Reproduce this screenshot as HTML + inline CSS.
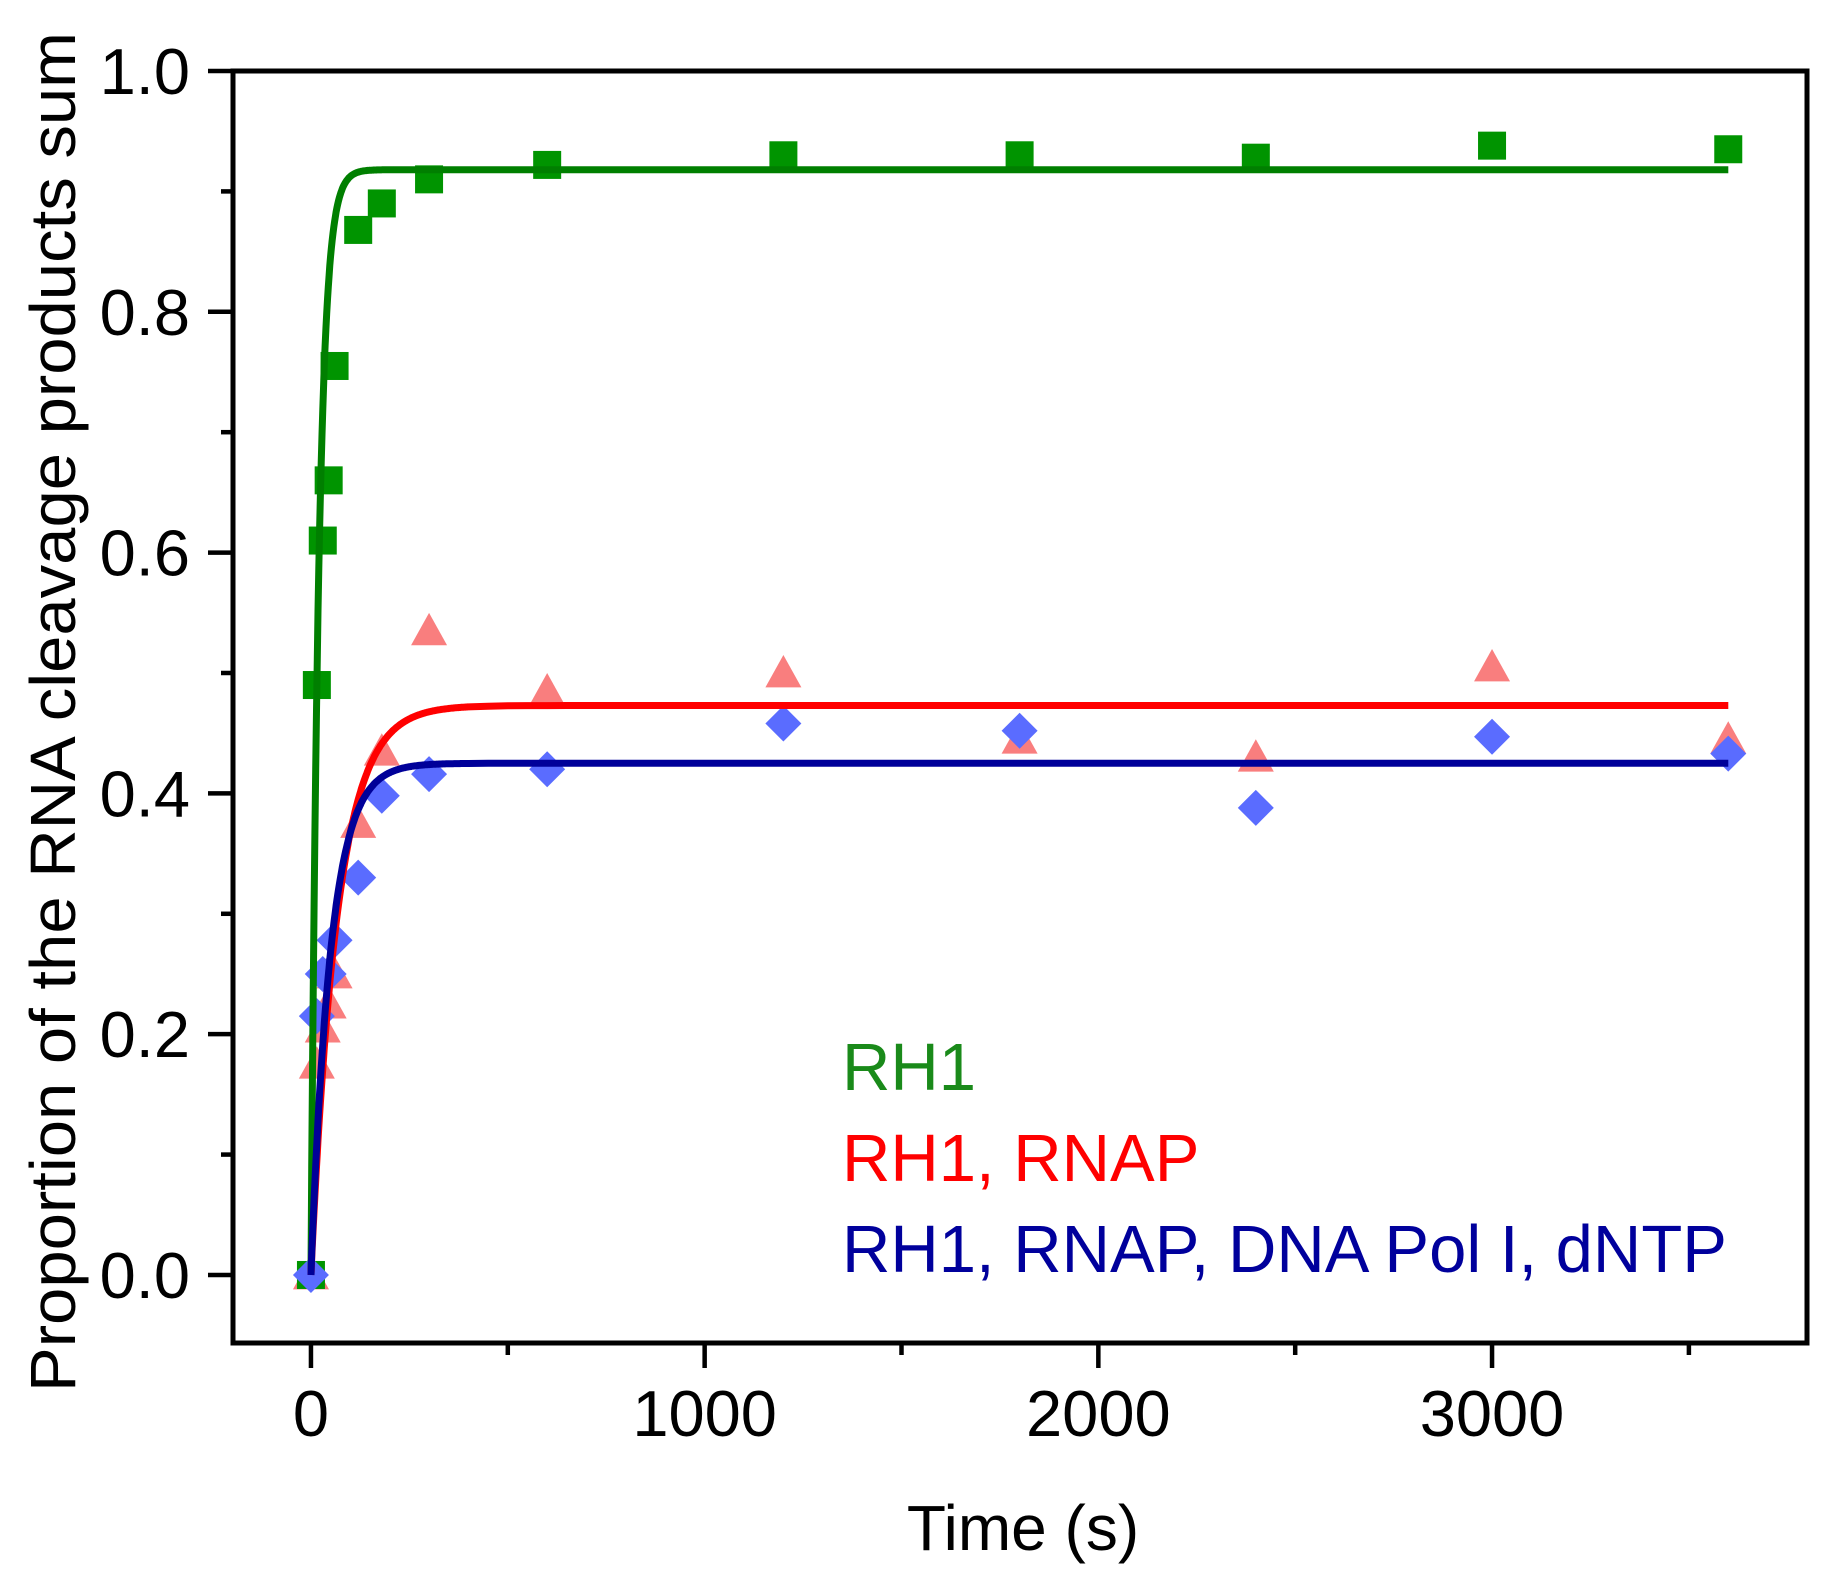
<!DOCTYPE html>
<html><head><meta charset="utf-8"><style>
html,body{margin:0;padding:0;background:#fff}
svg{display:block;font-family:"Liberation Sans",Arial,sans-serif}
</style></head><body>
<svg id="chart" width="1839" height="1587" viewBox="0 0 1839 1587" xmlns="http://www.w3.org/2000/svg">
<g id="plot"></g>
<text transform="translate(75,712) rotate(-90)" text-anchor="middle" font-size="64" textLength="1360" lengthAdjust="spacingAndGlyphs">Proportion of the  RNA cleavage products sum</text>
<text x="1023" y="1550" text-anchor="middle" font-size="64">Time (s)</text>
<text x="842" y="1090" font-size="67" fill="#1a8a1a">RH1</text>
<text x="842" y="1181" font-size="67" fill="#ff0000">RH1, RNAP</text>
<text x="842" y="1272" font-size="67" fill="#00009c">RH1, RNAP, DNA Pol I, dNTP</text>
</svg>
<script>
const xTicks = [0, 1000, 2000, 3000];
const yTicks = [0.0, 0.2, 0.4, 0.6, 0.8, 1.0];
const yTickLabels = ["0.0", "0.2", "0.4", "0.6", "0.8", "1.0"];
const timesGreen = [0, 15, 30, 45, 60, 120, 180, 300, 600, 1200, 1800, 2400, 3000, 3600];
const valuesGreen = [0, 0.49, 0.61, 0.66, 0.755, 0.868, 0.89, 0.91, 0.922, 0.93, 0.93, 0.928, 0.938, 0.935];
const timesRed = [0, 15, 30, 45, 60, 120, 180, 300, 600, 1200, 1800, 2400, 3000, 3600];
const valuesRed = [0, 0.175, 0.205, 0.225, 0.25, 0.375, 0.435, 0.535, 0.485, 0.5, 0.445, 0.43, 0.505, 0.445];
const timesBlue = [0, 15, 30, 45, 60, 120, 180, 300, 600, 1200, 1800, 2400, 3000, 3600];
const valuesBlue = [0, 0.215, 0.25, 0.25, 0.278, 0.33, 0.398, 0.416, 0.42, 0.458, 0.452, 0.388, 0.447, 0.433];
const fitGreen = [0.918, 0.051];
const fitRed = [0.473, 0.015];
const fitBlue = [0.425, 0.02];

const L=233,R=1807,T=71,B=1343;
const xMin=-198,xMax=3800,yMin=-0.0565,yMax=1.0;
const sx=v=>L+(v-xMin)/(xMax-xMin)*(R-L);
const sy=v=>B-(v-yMin)/(yMax-yMin)*(B-T);
const NS="http://www.w3.org/2000/svg";
const g=document.getElementById('plot');
function mk(tag,attrs){const e=document.createElementNS(NS,tag);for(const k in attrs)e.setAttribute(k,attrs[k]);g.appendChild(e);return e;}

for(let v=-0.0;v<=1.0001;v+=0.1){
  const major=Math.abs(Math.round(v*10)%2)===0;
  const t=mk('line',{x1:L-(major?25:12),x2:L,y1:sy(v),y2:sy(v),stroke:'#000','stroke-width':4.5});
  
  
}
yTicks.forEach((v,i)=>{
  const t=mk('text',{x:190,y:sy(v)+23,'text-anchor':'end','font-size':65});
  t.textContent=yTickLabels[i];
  
  
});
for(let v=0;v<=3500;v+=500){
  const major=v%1000===0;
  const t=mk('line',{x1:sx(v),x2:sx(v),y1:B,y2:B+(major?25:12),stroke:'#000','stroke-width':4.5});
  
  
}
xTicks.forEach(v=>{
  const t=mk('text',{x:sx(v),y:1436,'text-anchor':'middle','font-size':65});
  t.textContent=String(v);
  
  
});

function fitPath(p,color,name){
  let d='';
  for(let t=0;t<=3600;t+=(t<400?2:50)){
    const y=p[0]*(1-Math.exp(-p[1]*t));
    d+=(d?'L':'M')+sx(t).toFixed(1)+','+sy(y).toFixed(1);
  }
  const e=mk('path',{d:d,fill:'none',stroke:color,'stroke-width':7,'stroke-linejoin':'round'});
  
  
}
timesRed.forEach((t,i)=>{
  const x=sx(t),y=sy(valuesRed[i]),s=18;
  const e=mk('polygon',{points:`${x},${y-s} ${x+s},${y+s*0.8} ${x-s},${y+s*0.8}`,fill:'#f87070','fill-opacity':0.9});
  
  
});
timesGreen.forEach((t,i)=>{
  const x=sx(t),y=sy(valuesGreen[i]);
  const e=mk('rect',{x:x-14,y:y-14,width:28,height:28,fill:'#009400'});
  
  
});
timesBlue.forEach((t,i)=>{
  const x=sx(t),y=sy(valuesBlue[i]),s=18;
  const e=mk('polygon',{points:`${x},${y-s} ${x+s},${y} ${x},${y+s} ${x-s},${y}`,fill:'#5a6cff'});
  
  
});
fitPath(fitGreen,'#007f00','fit-rh1');
fitPath(fitRed,'#ff0000','fit-rh1-rnap');
fitPath(fitBlue,'#000099','fit-rh1-rnap-pol-dntp');

const frame=mk('rect',{x:L,y:T,width:R-L,height:B-T,fill:'none',stroke:'#000','stroke-width':5});


</script>
</body></html>
